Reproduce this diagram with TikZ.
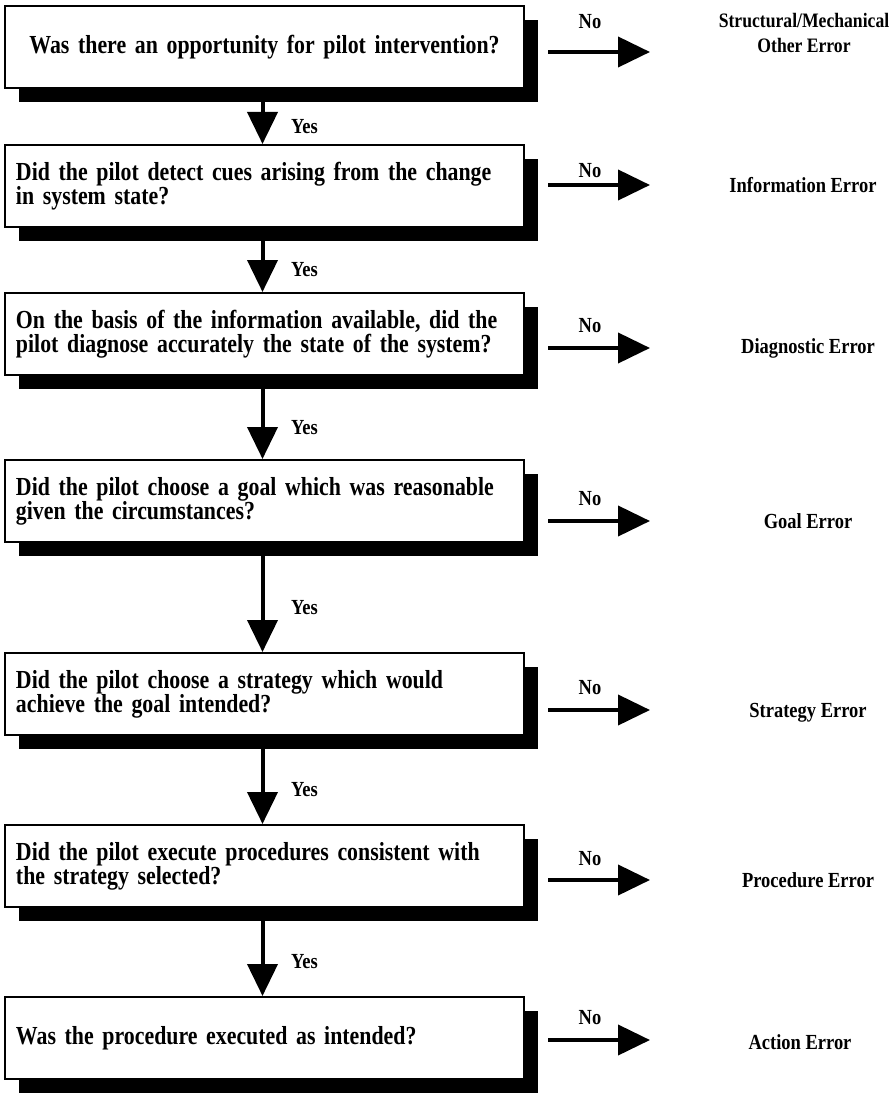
\documentclass[tikz,border=0pt]{standalone}
\usepackage{fontspec}
\setmainfont{Liberation Serif}
\newfontfamily\condfont{Liberation Serif}[FakeStretch=0.84,WordSpace=0.75]
\newfontfamily\labfont{Liberation Serif}[FakeStretch=0.86]
\usetikzlibrary{arrows.meta,shadows}
\begin{document}
\begin{tikzpicture}[x=1pt,y=-1pt,
  qbox/.style={draw,line width=2pt,fill=white,minimum width=519pt,minimum height=82pt,
    text width=497pt,inner xsep=10pt,align=left,
    font=\condfont\bfseries\fontsize{26}{24}\selectfont,
    drop shadow={shadow xshift=14pt,shadow yshift=-14pt,opacity=1,fill=black}},
  errlabel/.style={font=\labfont\bfseries\fontsize{21.5}{25}\selectfont,align=center},
  flowarrow/.style={line width=4pt,-{Triangle[length=32pt,width=30pt]}},
  lab/.style={font=\labfont\bfseries\fontsize{21.5}{24}\selectfont}
]
\useasboundingbox (0,0) rectangle (892,1102);

% decision boxes
\node[qbox,align=center] (b1) at (264.5,47) {Was there an opportunity for pilot intervention?};
\node[qbox] (b2) at (264.5,186) {Did the pilot detect cues arising from the change\\in system state?};
\node[qbox] (b3) at (264.5,334) {On the basis of the information available, did the\\pilot diagnose accurately the state of the system?};
\node[qbox] (b4) at (264.5,501) {Did the pilot choose a goal which was reasonable\\given the circumstances?};
\node[qbox] (b5) at (264.5,694) {Did the pilot choose a strategy which would\\achieve the goal intended?};
\node[qbox] (b6) at (264.5,866) {Did the pilot execute procedures consistent with\\the strategy selected?};
\node[qbox] (b7) at (264.5,1038) {Was the procedure executed as intended?};

% error outcomes
\node[errlabel,font=\labfont\bfseries\fontsize{20.5}{25}\selectfont] (e1) at (804,33) {Structural/Mechanical\\Other Error};
\node[errlabel] (e2) at (803,185) {Information Error};
\node[errlabel] (e3) at (808,348) {Diagnostic Error};
\node[errlabel] (e4) at (808,521) {Goal Error};
\node[errlabel] (e5) at (808,713) {Strategy Error};
\node[errlabel] (e6) at (808,880) {Procedure Error};
\node[errlabel] (e7) at (800,1042) {Action Error};

% "Yes" connectors
\foreach \a/\b in {b1/b2,b2/b3,b3/b4,b4/b5,b5/b6,b6/b7}
  \draw[flowarrow] ([xshift=-2pt]\a.south) -- ([xshift=-2pt]\b.north)
    node[lab,midway,xshift=42pt,yshift=-10pt] {Yes};

% "No" connectors
\foreach \b/\y/\d in {b1/52/30,b2/185/14,b3/348/22,b4/521/22,b5/710/22,b6/880/21,b7/1040/22}{
  \coordinate (s\b) at (548,\y);
  \coordinate (t\b) at (650,\y);
  \draw[flowarrow] (s\b) -- (t\b);
  \node[lab] at (590,\y-\d) {No};
}
\end{tikzpicture}
\end{document}
